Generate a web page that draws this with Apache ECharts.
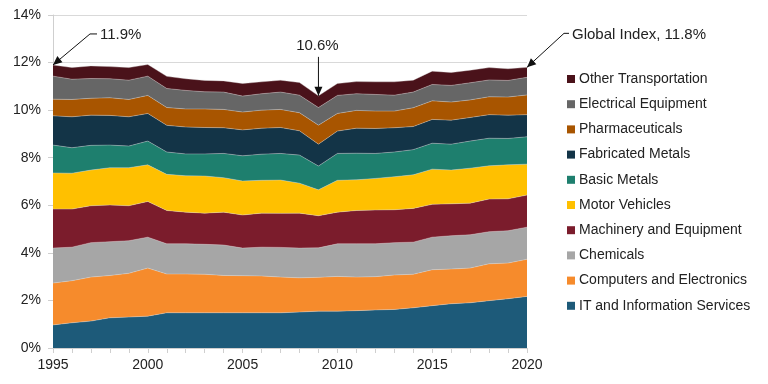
<!DOCTYPE html>
<html>
<head>
<meta charset="utf-8">
<script src="https://cdn.jsdelivr.net/npm/echarts@6/dist/echarts.min.js"></script>
<style>
html,body{margin:0;padding:0;background:#fff;}
#chart{width:768px;height:384px;}
</style>
</head>
<body>
<div id="chart"></div>
<script>
const years = ['1995','1996','1997','1998','1999','2000','2001','2002','2003','2004','2005','2006','2007','2008','2009','2010','2011','2012','2013','2014','2015','2016','2017','2018','2019','2020'];

const itServices   = [0.97,1.06,1.13,1.27,1.30,1.34,1.48,1.48,1.48,1.48,1.48,1.48,1.48,1.51,1.55,1.55,1.57,1.60,1.62,1.69,1.78,1.86,1.90,1.99,2.07,2.17];
const computers    = [1.76,1.77,1.85,1.78,1.84,2.02,1.63,1.63,1.62,1.57,1.56,1.55,1.50,1.44,1.42,1.46,1.41,1.40,1.45,1.41,1.51,1.46,1.46,1.55,1.50,1.56];
const chemicals    = [1.47,1.41,1.45,1.42,1.37,1.30,1.27,1.27,1.26,1.28,1.16,1.21,1.25,1.25,1.24,1.37,1.40,1.38,1.36,1.35,1.37,1.40,1.40,1.35,1.36,1.35];
const machinery    = [1.64,1.60,1.55,1.54,1.47,1.50,1.40,1.33,1.31,1.38,1.39,1.43,1.43,1.47,1.35,1.33,1.40,1.42,1.38,1.42,1.38,1.34,1.33,1.37,1.34,1.35];
const motor        = [1.52,1.51,1.50,1.57,1.60,1.54,1.52,1.53,1.56,1.45,1.43,1.38,1.40,1.26,1.09,1.34,1.29,1.33,1.39,1.41,1.48,1.42,1.47,1.40,1.43,1.30];
const basicMetals  = [1.17,1.07,1.04,0.95,0.91,1.00,0.94,0.92,0.93,1.02,1.06,1.10,1.12,1.18,1.00,1.13,1.12,1.05,1.04,1.06,1.09,1.09,1.14,1.16,1.11,1.15];
const fabricated   = [1.23,1.30,1.27,1.25,1.23,1.16,1.12,1.13,1.11,1.08,1.09,1.09,1.09,1.02,0.92,0.94,1.05,1.05,1.02,0.97,1.00,1.01,0.99,0.99,0.98,0.93];
const pharma       = [0.70,0.73,0.71,0.74,0.73,0.76,0.75,0.76,0.78,0.77,0.75,0.76,0.76,0.76,0.80,0.74,0.75,0.73,0.70,0.79,0.78,0.76,0.74,0.75,0.76,0.83];
const electrical   = [0.97,0.85,0.83,0.80,0.81,0.81,0.80,0.78,0.72,0.73,0.67,0.69,0.73,0.74,0.74,0.76,0.70,0.70,0.67,0.66,0.69,0.70,0.72,0.71,0.70,0.74];
const otherTransp  = [0.47,0.49,0.53,0.51,0.53,0.49,0.51,0.49,0.48,0.47,0.53,0.50,0.50,0.53,0.49,0.50,0.51,0.53,0.56,0.50,0.56,0.54,0.53,0.52,0.49,0.42];

const seriesNames = ['IT and Information Services','Computers and Electronics','Chemicals','Machinery and Equipment','Motor Vehicles','Basic Metals','Fabricated Metals','Pharmaceuticals','Electrical Equipment','Other Transportation'];
const seriesData = [itServices, computers, chemicals, machinery, motor, basicMetals, fabricated, pharma, electrical, otherTransp];
const seriesColors = ['#1D5A79','#F68B2C','#A6A6A6','#7B1C2C','#FFC000','#1E7F6E','#133447','#A85500','#666666','#4A121A'];

const yTicks = [0,2,4,6,8,10,12,14];

const annoYears  = ['1995','2009','2020'];
const annoLabels = ['11.9%','10.6%','Global Index, 11.8%'];

const FONT = 'Liberation Sans';

const chart = echarts.init(document.getElementById('chart'), null, {renderer:'canvas'});

const series = seriesNames.map((name, i) => ({
  name: name,
  type: 'line',
  stack: 'total',
  data: seriesData[i],
  showSymbol: false,
  symbol: 'none',
  smooth: false,
  itemStyle: {color: seriesColors[i]},
  lineStyle: {width: 0.6, color: 'rgba(220,220,220,0.6)'},
  areaStyle: {color: seriesColors[i], opacity: 1},
  emphasis: {disabled: true},
  z: 2
}));

chart.setOption({
  animation: false,
  backgroundColor: '#fff',
  grid: {left: 53, right: 241, top: 15, bottom: 36, containLabel: false},
  xAxis: {
    type: 'category',
    data: years,
    boundaryGap: false,
    axisLine: {show: true, lineStyle: {color: '#cfcfcf', width: 1}},
    axisTick: {show: true, interval: 0, length: 5, lineStyle: {color: '#cfcfcf'}},
    axisLabel: {interval: 4, color: '#222', fontFamily: FONT, fontSize: 14, margin: 10},
    splitLine: {show: false}
  },
  yAxis: {
    type: 'value',
    min: yTicks[0],
    max: yTicks[yTicks.length - 1],
    interval: 2,
    axisLine: {show: true, lineStyle: {color: '#cfcfcf', width: 1}},
    axisTick: {show: true, length: 5, lineStyle: {color: '#cfcfcf'}},
    axisLabel: {formatter: '{value}%', color: '#222', fontFamily: FONT, fontSize: 14, margin: 12},
    splitLine: {show: true, lineStyle: {color: '#d9d9d9', width: 1}}
  },
  legend: {
    orient: 'vertical',
    left: 562,
    top: 67,
    data: seriesNames.slice().reverse(),
    icon: 'rect',
    itemWidth: 8,
    itemHeight: 8,
    itemGap: 11.2,
    textStyle: {color: '#222', fontFamily: FONT, fontSize: 14, padding: [0,0,0,-1]},
    selectedMode: false
  },
  series: series
});

// Annotations anchored to the stack total at each annotated year
function total(idx) {
  let s = 0;
  for (const arr of seriesData) s += arr[idx];
  return s;
}
function arrowHead(tip, from, len, half) {
  const dx = tip[0] - from[0], dy = tip[1] - from[1];
  const d = Math.sqrt(dx*dx + dy*dy);
  const ux = dx / d, uy = dy / d;
  const bx = tip[0] - ux * len, by = tip[1] - uy * len;
  return [[tip[0], tip[1]], [bx - uy * half, by + ux * half], [bx + uy * half, by - ux * half]];
}
const graphics = [];
const offsets = [
  {elbow: [37, -31], end: [7, 0], text: [3, 1], align: 'left'},
  {elbow: [0, -39], end: null, text: [-1, -11], align: 'center'},
  {elbow: [37, -34], end: [5, 0], text: [3, 2], align: 'left'}
];
annoYears.forEach((yr, k) => {
  const idx = years.indexOf(yr);
  const tip = chart.convertToPixel({gridIndex: 0}, [idx, total(idx)]);
  const o = offsets[k];
  const elbow = [tip[0] + o.elbow[0], tip[1] + o.elbow[1]];
  const pts = [elbow, tip];
  let end = elbow;
  if (o.end) { end = [elbow[0] + o.end[0], elbow[1] + o.end[1]]; pts.unshift(end); }
  graphics.push({type: 'polyline', shape: {points: pts}, style: {stroke: '#111', lineWidth: 1, fill: null}, z: 100});
  graphics.push({type: 'polygon', shape: {points: arrowHead(tip, elbow, 9, 4)}, style: {fill: '#111'}, z: 100});
  graphics.push({
    type: 'text',
    x: end[0] + o.text[0],
    y: end[1] + o.text[1],
    style: {text: annoLabels[k], fill: '#222', font: '15px "' + FONT + '"', textAlign: o.align, textVerticalAlign: 'middle'},
    z: 100
  });
});
chart.setOption({graphic: graphics});
</script>
</body>
</html>
